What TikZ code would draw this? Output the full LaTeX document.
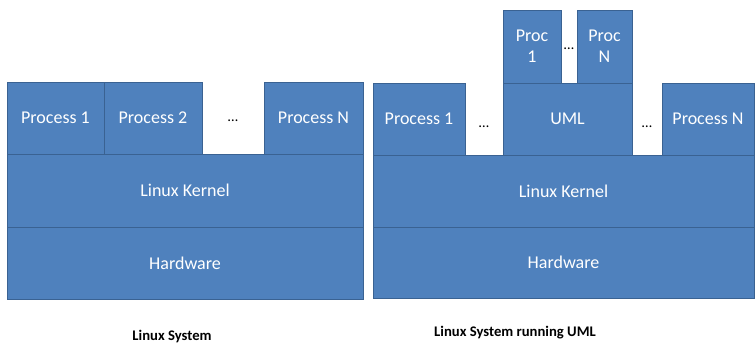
\documentclass[tikz,border=0pt]{standalone}
\usepackage{fontspec}
\setmainfont{Carlito}

\definecolor{umlblue}{RGB}{79,129,189}
\definecolor{umledge}{RGB}{58,98,146}

\tikzset{
	blk/.style 2 args={draw=umledge, fill=umlblue, line width=0.6pt, inner sep=0pt,
		minimum width=#1*0.75pt, minimum height=#2*0.75pt,
		text=white, font=\fontsize{13.5}{16}\selectfont, align=center},
	gapdots/.style={font=\fontsize{11}{13}\selectfont, text=black},
	caption/.style={font=\fontsize{11}{13}\selectfont\bfseries, text=black}
}

\begin{document}
\begin{tikzpicture}[x=0.75pt, y=-0.75pt]
	\useasboundingbox (0,0) rectangle (755,346);

	% Linux System
	\node[blk={97}{72}]  (p1)     at (55.5,118)  {Process 1};
	\node[blk={98}{72}]  (p2)     at (153,118)   {Process 2};
	\node[blk={99}{72}]  (pn)     at (313.5,118) {Process N};
	\node[blk={356}{73}] (kernel) at (185,190.5) {Linux Kernel};
	\node[blk={356}{72}] (hw)     at (185,263)   {Hardware};
	\node[gapdots] (dots) at (233,121) {\ldots};
	\node[caption] (sys) at (172,337) {Linux System};

	% Linux System running UML
	\node[blk={92}{72}]  (up1)     at (419,119)   {Process 1};
	\node[blk={129}{72}] (uml)     at (567.5,119) {UML};
	\node[blk={92}{72}]  (upn)     at (708,119)   {Process N};
	\node[blk={58}{73}]  (proc1)   at (532,46.5)  {Proc\\1};
	\node[blk={55}{73}]  (procn)   at (604.5,46.5) {Proc\\N};
	\node[blk={381}{72}] (ukernel) at (563.5,191) {Linux Kernel};
	\node[blk={381}{71}] (uhw)     at (563.5,262.5) {Hardware};
	\node[gapdots] (udots1) at (484,127) {\ldots};
	\node[gapdots] (udots2) at (647,127) {\ldots};
	\node[gapdots] (pdots)  at (569,49)  {\ldots};
	\node[caption] (usys) at (515,333) {Linux System running UML};

\end{tikzpicture}
\end{document}
